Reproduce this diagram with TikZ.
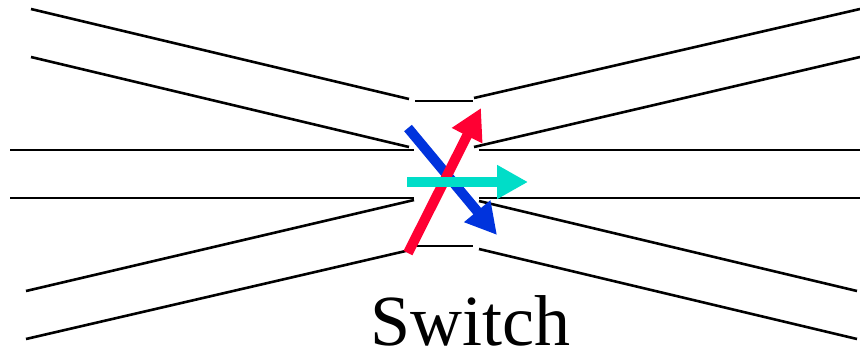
\documentclass[tikz,border=0pt]{standalone}
\usepackage{fontspec}
\setmainfont{Liberation Serif}
\usetikzlibrary{arrows.meta}
\definecolor{swred}{HTML}{FF0033}
\definecolor{swblue}{HTML}{0033DD}
\definecolor{swcyan}{HTML}{00DDC8}
\begin{document}
\begin{tikzpicture}[x=1pt,y=-1pt,
  wire/.style={line width=2.6pt,black},
  flow/.style={line width=10pt,-{Triangle[length=31pt,width=32pt]}}]
\useasboundingbox (0,0) rectangle (860,354);
% port ends on the left
\coordinate (l1a) at (31,9);   \coordinate (l1b) at (409,99);
\coordinate (l2a) at (31,57);  \coordinate (l2b) at (409,147);
\coordinate (l3a) at (10,150); \coordinate (l3b) at (414,150);
\coordinate (l4a) at (10,198); \coordinate (l4b) at (414,198);
\coordinate (l5a) at (26,291); \coordinate (l5b) at (414,200);
\coordinate (l6a) at (26,339); \coordinate (l6b) at (410,250);
% port ends on the right
\coordinate (r1a) at (474,98);  \coordinate (r1b) at (860,9);
\coordinate (r2a) at (474,147); \coordinate (r2b) at (860,57);
\coordinate (r3a) at (479,150); \coordinate (r3b) at (860,150);
\coordinate (r4a) at (479,198); \coordinate (r4b) at (860,198);
\coordinate (r5a) at (479,201); \coordinate (r5b) at (857,291);
\coordinate (r6a) at (479,249); \coordinate (r6b) at (857,339);
% switch housing edges
\coordinate (ta) at (415,101); \coordinate (tb) at (473,101);
\coordinate (ba) at (415,246); \coordinate (bb) at (473,246);
\foreach \n in {l1,l2,l3,l4,l5,l6,r1,r2,r3,r4,r5,r6}
  \draw[wire] (\n a) -- (\n b);
\draw[wire] (ta) -- (tb);
\draw[wire] (ba) -- (bb);
% crossing paths through the switch
\coordinate (bs) at (408,128); \coordinate (be) at (497,235);
\coordinate (rs) at (408,253); \coordinate (re) at (481,108);
\coordinate (cs) at (407,182); \coordinate (ce) at (528,182);
\draw[flow,swblue] (bs) -- (be);
\draw[flow,swred] (rs) -- (re);
\draw[flow,swcyan] (cs) -- (ce);
\node[font=\fontsize{72}{72}\selectfont,anchor=base,inner sep=0pt,text depth=0pt] (label) at (470,345) {Switch};
\end{tikzpicture}
\end{document}
